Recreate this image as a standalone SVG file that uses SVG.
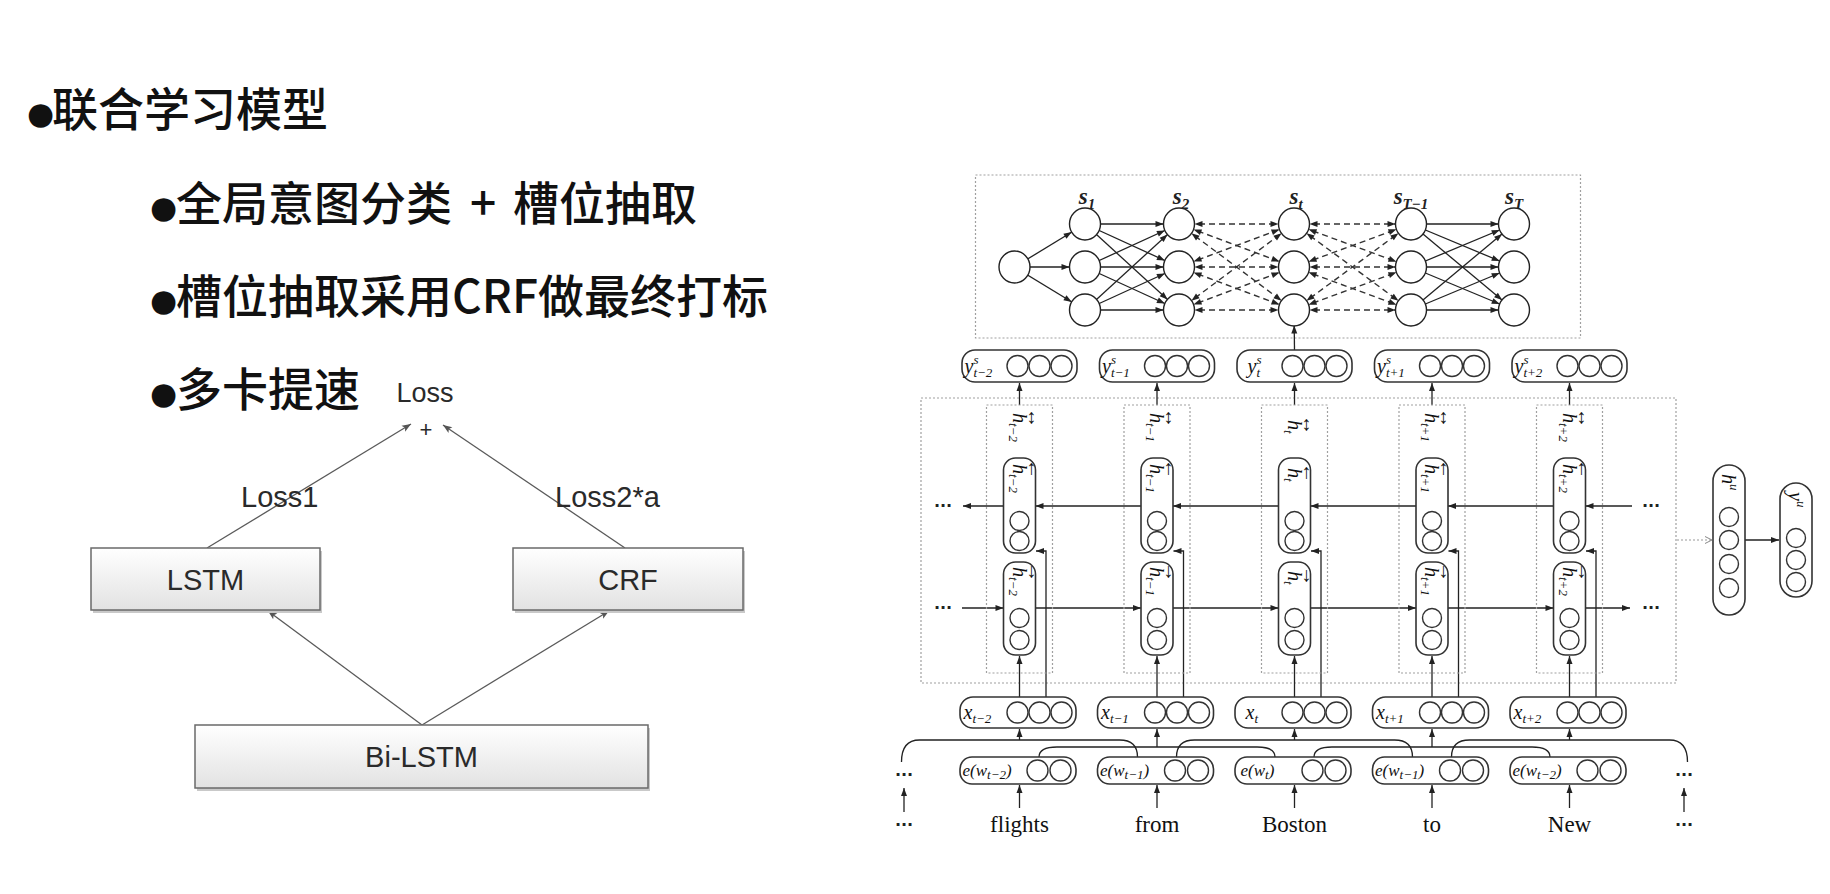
<svg xmlns="http://www.w3.org/2000/svg" width="1830" height="894" viewBox="0 0 1830 894">
<defs>
<style>
.cjk{font-family:"Noto Sans CJK SC","Noto Sans CJK JP",sans-serif;font-size:46px;font-weight:500;fill:#111}
.bul{font-family:"DejaVu Sans",sans-serif;font-size:31px}
.lt{font-family:"Liberation Sans",Arial,sans-serif;fill:#2a2a2a}
.m{font-family:"Liberation Serif","Times New Roman",serif;font-style:italic;font-size:20px;fill:#111}
.s{font-size:13px}
.e{font-size:17px}
.w{font-family:"Liberation Serif","Times New Roman",serif;font-size:23px;fill:#111;text-anchor:middle}
.dots{font-family:"DejaVu Sans",sans-serif;font-size:16px;font-weight:bold;fill:#222;text-anchor:middle}
.sl{font-family:"Liberation Serif",serif;font-style:italic;font-weight:bold;font-size:23px;fill:#222;text-anchor:middle}
.node{fill:#fff;stroke:#222;stroke-width:1.4}
.rb{fill:#fff;stroke:#333;stroke-width:1.6}
.cir{fill:#fff;stroke:#333;stroke-width:1.4}
.dot{fill:none;stroke:#a0a0a0;stroke-width:1.2;stroke-dasharray:2 2}
.ln{stroke:#222;stroke-width:1.3;fill:none}
.dl{stroke:#333;stroke-width:1.4;fill:none;stroke-dasharray:6 4}
.gl{stroke:#5a5a5a;stroke-width:1.3;fill:none}
.lbox{fill:url(#boxg);stroke:#6a6a6a;stroke-width:1.5}
.shd{fill:#c9c9c9}
</style>
<linearGradient id="boxg" x1="0" y1="0" x2="0" y2="1">
<stop offset="0" stop-color="#ffffff"/>
<stop offset="1" stop-color="#e2e2e2"/>
</linearGradient>
<marker id="arr" markerUnits="userSpaceOnUse" markerWidth="10" markerHeight="8" refX="8" refY="3" orient="auto" overflow="visible"><path d="M0,0 L8,3 L0,6 z" fill="#222"/></marker>
<marker id="arrN" markerUnits="userSpaceOnUse" markerWidth="10" markerHeight="8" refX="23.5" refY="3" orient="auto-start-reverse" overflow="visible"><path d="M0,0 L8,3 L0,6 z" fill="#222"/></marker>
<marker id="arrG" markerUnits="userSpaceOnUse" markerWidth="10" markerHeight="8" refX="9" refY="3.5" orient="auto" overflow="visible"><path d="M0,0 L9,3.5 L0,7 L2,3.5 z" fill="#555"/></marker>
<marker id="arrO" markerUnits="userSpaceOnUse" markerWidth="10" markerHeight="8" refX="7" refY="3.5" orient="auto" overflow="visible"><path d="M0,0 L7,3.5 L0,7" fill="none" stroke="#888" stroke-width="1"/></marker>
</defs>
<rect width="1830" height="894" fill="#fff"/>

<!-- headings -->
<g id="headings">
<text id="h1" class="cjk" x="27" y="126"><tspan class="bul" dy="-2">●</tspan><tspan x="52" dy="2">联合学习模型</tspan></text>
<text id="h2" class="cjk" x="150" y="220"><tspan class="bul" dy="-2">●</tspan><tspan x="176" dy="2">全局意图分类 </tspan><tspan x="470">+ </tspan><tspan x="513">槽位抽取</tspan></text>
<text id="h3" class="cjk" x="150" y="313"><tspan class="bul" dy="-2">●</tspan><tspan x="176" dy="2">槽位抽取采用CRF做最终打标</tspan></text>
<text id="h4" class="cjk" x="150" y="406"><tspan class="bul" dy="-2">●</tspan><tspan x="176" dy="2">多卡提速</tspan></text>
</g>

<!-- left joint model diagram -->
<g id="left-connectors">
<line class="gl" x1="207" y1="548" x2="411" y2="424" marker-end="url(#arrG)"/>
<line class="gl" x1="625" y1="548" x2="443" y2="425" marker-end="url(#arrG)"/>
<line class="gl" x1="422" y1="725" x2="268" y2="611" marker-end="url(#arrG)"/>
<line class="gl" x1="422" y1="725" x2="609" y2="611" marker-end="url(#arrG)"/>
<text class="lt" x="241" y="507" font-size="29">Loss1</text>
<text class="lt" x="555" y="507" font-size="29">Loss2*a</text>
</g>
<g id="loss">
<text class="lt" x="425" y="402" font-size="27" text-anchor="middle">Loss</text>
<text class="lt" x="426" y="437" font-size="22" text-anchor="middle">+</text>
</g>
<g id="lstm">
<rect class="shd" x="93" y="551" width="229" height="62"/>
<rect class="lbox" x="91" y="548" width="229" height="62"/>
<text class="lt" x="205.5" y="590" font-size="29" text-anchor="middle">LSTM</text>
</g>
<g id="crf">
<rect class="shd" x="515" y="551" width="230" height="62"/>
<rect class="lbox" x="513" y="548" width="230" height="62"/>
<text class="lt" x="628" y="590" font-size="29" text-anchor="middle">CRF</text>
</g>
<g id="bilstm">
<rect class="shd" x="197" y="728" width="453" height="63"/>
<rect class="lbox" x="195" y="725" width="453" height="63"/>
<text class="lt" x="421.5" y="767" font-size="29" text-anchor="middle">Bi-LSTM</text>
</g>

<!-- right network diagram -->
<g id="frames">
<rect class="dot" x="975.5" y="175" width="605" height="163"/>
<rect class="dot" x="921" y="398" width="755" height="285"/>
</g>

<g id="connectors">
<g id="crf-edges">
<line class="ln" x1="1014.5" y1="267" x2="1085" y2="224" marker-end="url(#arrN)"/>
<line class="ln" x1="1014.5" y1="267" x2="1085" y2="267" marker-end="url(#arrN)"/>
<line class="ln" x1="1014.5" y1="267" x2="1085" y2="310" marker-end="url(#arrN)"/>
<line class="ln" x1="1085" y1="224" x2="1179" y2="224" marker-end="url(#arrN)"/>
<line class="ln" x1="1085" y1="224" x2="1179" y2="267" marker-end="url(#arrN)"/>
<line class="ln" x1="1085" y1="224" x2="1179" y2="310" marker-end="url(#arrN)"/>
<line class="ln" x1="1085" y1="267" x2="1179" y2="224" marker-end="url(#arrN)"/>
<line class="ln" x1="1085" y1="267" x2="1179" y2="267" marker-end="url(#arrN)"/>
<line class="ln" x1="1085" y1="267" x2="1179" y2="310" marker-end="url(#arrN)"/>
<line class="ln" x1="1085" y1="310" x2="1179" y2="224" marker-end="url(#arrN)"/>
<line class="ln" x1="1085" y1="310" x2="1179" y2="267" marker-end="url(#arrN)"/>
<line class="ln" x1="1085" y1="310" x2="1179" y2="310" marker-end="url(#arrN)"/>
<line class="dl" x1="1179" y1="224" x2="1294" y2="224" marker-start="url(#arrN)" marker-end="url(#arrN)"/>
<line class="dl" x1="1179" y1="224" x2="1294" y2="267" marker-start="url(#arrN)" marker-end="url(#arrN)"/>
<line class="dl" x1="1179" y1="224" x2="1294" y2="310" marker-start="url(#arrN)" marker-end="url(#arrN)"/>
<line class="dl" x1="1179" y1="267" x2="1294" y2="224" marker-start="url(#arrN)" marker-end="url(#arrN)"/>
<line class="dl" x1="1179" y1="267" x2="1294" y2="267" marker-start="url(#arrN)" marker-end="url(#arrN)"/>
<line class="dl" x1="1179" y1="267" x2="1294" y2="310" marker-start="url(#arrN)" marker-end="url(#arrN)"/>
<line class="dl" x1="1179" y1="310" x2="1294" y2="224" marker-start="url(#arrN)" marker-end="url(#arrN)"/>
<line class="dl" x1="1179" y1="310" x2="1294" y2="267" marker-start="url(#arrN)" marker-end="url(#arrN)"/>
<line class="dl" x1="1179" y1="310" x2="1294" y2="310" marker-start="url(#arrN)" marker-end="url(#arrN)"/>
<line class="dl" x1="1294" y1="224" x2="1411" y2="224" marker-start="url(#arrN)" marker-end="url(#arrN)"/>
<line class="dl" x1="1294" y1="224" x2="1411" y2="267" marker-start="url(#arrN)" marker-end="url(#arrN)"/>
<line class="dl" x1="1294" y1="224" x2="1411" y2="310" marker-start="url(#arrN)" marker-end="url(#arrN)"/>
<line class="dl" x1="1294" y1="267" x2="1411" y2="224" marker-start="url(#arrN)" marker-end="url(#arrN)"/>
<line class="dl" x1="1294" y1="267" x2="1411" y2="267" marker-start="url(#arrN)" marker-end="url(#arrN)"/>
<line class="dl" x1="1294" y1="267" x2="1411" y2="310" marker-start="url(#arrN)" marker-end="url(#arrN)"/>
<line class="dl" x1="1294" y1="310" x2="1411" y2="224" marker-start="url(#arrN)" marker-end="url(#arrN)"/>
<line class="dl" x1="1294" y1="310" x2="1411" y2="267" marker-start="url(#arrN)" marker-end="url(#arrN)"/>
<line class="dl" x1="1294" y1="310" x2="1411" y2="310" marker-start="url(#arrN)" marker-end="url(#arrN)"/>
<line class="ln" x1="1411" y1="224" x2="1514" y2="224" marker-end="url(#arrN)"/>
<line class="ln" x1="1411" y1="224" x2="1514" y2="267" marker-end="url(#arrN)"/>
<line class="ln" x1="1411" y1="224" x2="1514" y2="310" marker-end="url(#arrN)"/>
<line class="ln" x1="1411" y1="267" x2="1514" y2="224" marker-end="url(#arrN)"/>
<line class="ln" x1="1411" y1="267" x2="1514" y2="267" marker-end="url(#arrN)"/>
<line class="ln" x1="1411" y1="267" x2="1514" y2="310" marker-end="url(#arrN)"/>
<line class="ln" x1="1411" y1="310" x2="1514" y2="224" marker-end="url(#arrN)"/>
<line class="ln" x1="1411" y1="310" x2="1514" y2="267" marker-end="url(#arrN)"/>
<line class="ln" x1="1411" y1="310" x2="1514" y2="310" marker-end="url(#arrN)"/>
<line class="ln" x1="1294.5" y1="350" x2="1294" y2="310" marker-end="url(#arrN)"/>
</g>
<g id="rows">
<line class="ln" x1="1003.5" y1="506" x2="963" y2="506" marker-end="url(#arr)"/>
<line class="ln" x1="1141" y1="506" x2="1035.5" y2="506" marker-end="url(#arr)"/>
<line class="ln" x1="1278.5" y1="506" x2="1173" y2="506" marker-end="url(#arr)"/>
<line class="ln" x1="1416" y1="506" x2="1310.5" y2="506" marker-end="url(#arr)"/>
<line class="ln" x1="1553.5" y1="506" x2="1448" y2="506" marker-end="url(#arr)"/>
<line class="ln" x1="1632" y1="506" x2="1585.5" y2="506" marker-end="url(#arr)"/>
<line class="ln" x1="962" y1="608" x2="1003.5" y2="608" marker-end="url(#arr)"/>
<line class="ln" x1="1035.5" y1="608" x2="1141" y2="608" marker-end="url(#arr)"/>
<line class="ln" x1="1173" y1="608" x2="1278.5" y2="608" marker-end="url(#arr)"/>
<line class="ln" x1="1310.5" y1="608" x2="1416" y2="608" marker-end="url(#arr)"/>
<line class="ln" x1="1448" y1="608" x2="1553.5" y2="608" marker-end="url(#arr)"/>
<line class="ln" x1="1585.5" y1="608" x2="1630" y2="608" marker-end="url(#arr)"/>
<line class="ln" x1="904" y1="812" x2="904" y2="788" marker-end="url(#arr)"/>
<line class="ln" x1="1684" y1="812" x2="1684" y2="788" marker-end="url(#arr)"/>
<line x1="1677" y1="540" x2="1712" y2="540" stroke="#999" stroke-width="1.2" stroke-dasharray="2 2" marker-end="url(#arrO)"/>
<line class="ln" x1="1745" y1="540" x2="1779" y2="540" marker-end="url(#arr)"/>
</g>
<g id="col-links-0" transform="translate(1019.5 0)">
<line class="ln" x1="0" y1="405" x2="0" y2="383" marker-end="url(#arr)"/>
<line class="ln" x1="0" y1="697" x2="0" y2="656" marker-end="url(#arr)"/>
<path class="ln" d="M26.5,697 V551 H16.5" marker-end="url(#arr)"/>
<line class="ln" x1="0" y1="808" x2="0" y2="785" marker-end="url(#arr)"/>
<line class="ln" x1="0" y1="740" x2="0" y2="729" marker-end="url(#arr)"/>
<path class="ln" d="M-118,762 Q-118,740 -100,740 H100 Q118,740 118,757"/>
</g>
<g id="col-links-1" transform="translate(1157 0)">
<line class="ln" x1="0" y1="405" x2="0" y2="383" marker-end="url(#arr)"/>
<line class="ln" x1="0" y1="697" x2="0" y2="656" marker-end="url(#arr)"/>
<path class="ln" d="M26.5,697 V551 H16.5" marker-end="url(#arr)"/>
<line class="ln" x1="0" y1="808" x2="0" y2="785" marker-end="url(#arr)"/>
<line class="ln" x1="0" y1="747" x2="0" y2="729" marker-end="url(#arr)"/>
<path class="ln" d="M-118,757 Q-118,747 -100,747 H100 Q118,747 118,757"/>
</g>
<g id="col-links-2" transform="translate(1294.5 0)">
<line class="ln" x1="0" y1="405" x2="0" y2="383" marker-end="url(#arr)"/>
<line class="ln" x1="0" y1="697" x2="0" y2="656" marker-end="url(#arr)"/>
<path class="ln" d="M26.5,697 V551 H16.5" marker-end="url(#arr)"/>
<line class="ln" x1="0" y1="808" x2="0" y2="785" marker-end="url(#arr)"/>
<line class="ln" x1="0" y1="740" x2="0" y2="729" marker-end="url(#arr)"/>
<path class="ln" d="M-118,757 Q-118,740 -100,740 H100 Q118,740 118,757"/>
</g>
<g id="col-links-3" transform="translate(1432 0)">
<line class="ln" x1="0" y1="405" x2="0" y2="383" marker-end="url(#arr)"/>
<line class="ln" x1="0" y1="697" x2="0" y2="656" marker-end="url(#arr)"/>
<path class="ln" d="M26.5,697 V551 H16.5" marker-end="url(#arr)"/>
<line class="ln" x1="0" y1="808" x2="0" y2="785" marker-end="url(#arr)"/>
<line class="ln" x1="0" y1="747" x2="0" y2="729" marker-end="url(#arr)"/>
<path class="ln" d="M-118,757 Q-118,747 -100,747 H100 Q118,747 118,757"/>
</g>
<g id="col-links-4" transform="translate(1569.5 0)">
<line class="ln" x1="0" y1="405" x2="0" y2="383" marker-end="url(#arr)"/>
<line class="ln" x1="0" y1="697" x2="0" y2="656" marker-end="url(#arr)"/>
<path class="ln" d="M26.5,697 V551 H16.5" marker-end="url(#arr)"/>
<line class="ln" x1="0" y1="808" x2="0" y2="785" marker-end="url(#arr)"/>
<line class="ln" x1="0" y1="740" x2="0" y2="729" marker-end="url(#arr)"/>
<path class="ln" d="M-118,757 Q-118,740 -100,740 H100 Q118,740 118,762"/>
</g>
</g>

<g id="crf-nodes">
<ellipse class="node" cx="1014.5" cy="267" rx="15.5" ry="16"/>
<g id="s1"><text class="sl" x="1087" y="204">s<tspan font-size="15" dy="5">1</tspan></text>
<ellipse class="node" cx="1085" cy="224" rx="15.5" ry="16"/><ellipse class="node" cx="1085" cy="267" rx="15.5" ry="16"/><ellipse class="node" cx="1085" cy="310" rx="15.5" ry="16"/></g>
<g id="s2"><text class="sl" x="1181" y="204">s<tspan font-size="15" dy="5">2</tspan></text>
<ellipse class="node" cx="1179" cy="224" rx="15.5" ry="16"/><ellipse class="node" cx="1179" cy="267" rx="15.5" ry="16"/><ellipse class="node" cx="1179" cy="310" rx="15.5" ry="16"/></g>
<g id="st"><text class="sl" x="1296" y="204">s<tspan font-size="15" dy="5">t</tspan></text>
<ellipse class="node" cx="1294" cy="224" rx="15.5" ry="16"/><ellipse class="node" cx="1294" cy="267" rx="15.5" ry="16"/><ellipse class="node" cx="1294" cy="310" rx="15.5" ry="16"/></g>
<g id="sT-1"><text class="sl" x="1411" y="204">s<tspan font-size="15" dy="5">T−1</tspan></text>
<ellipse class="node" cx="1411" cy="224" rx="15.5" ry="16"/><ellipse class="node" cx="1411" cy="267" rx="15.5" ry="16"/><ellipse class="node" cx="1411" cy="310" rx="15.5" ry="16"/></g>
<g id="sT"><text class="sl" x="1514" y="204">s<tspan font-size="15" dy="5">T</tspan></text>
<ellipse class="node" cx="1514" cy="224" rx="15.5" ry="16"/><ellipse class="node" cx="1514" cy="267" rx="15.5" ry="16"/><ellipse class="node" cx="1514" cy="310" rx="15.5" ry="16"/></g>
</g>

<g id="col-0" transform="translate(1019.5 0)">
<rect class="rb" x="-57.5" y="350" width="115" height="32" rx="13"/>
<text class="m" x="-55" y="373">y<tspan class="s" dy="-9">s</tspan><tspan class="s" dx="-5" dy="13">t−2</tspan></text>
<circle class="cir" cx="-2" cy="366" r="10.5"/><circle class="cir" cx="20" cy="366" r="10.5"/><circle class="cir" cx="42" cy="366" r="10.5"/>
<rect class="dot" x="-33" y="405" width="66" height="268"/>
<g transform="translate(0 413) rotate(90)"><text class="m" x="0" y="7">h<tspan class="s" dy="4">t−2</tspan></text><text class="m" x="5" y="-8" font-size="11" text-anchor="middle">↔</text></g>
<rect class="rb" x="-16" y="458" width="32" height="95" rx="12"/>
<g transform="translate(0 464) rotate(90)"><text class="m" x="0" y="7">h<tspan class="s" dy="4">t−2</tspan></text><text class="m" x="5" y="-8" font-size="11" text-anchor="middle">←</text></g>
<circle class="cir" cx="0" cy="521" r="9.5"/><circle class="cir" cx="0" cy="541" r="9.5"/>
<rect class="rb" x="-16" y="562" width="32" height="93" rx="12"/>
<g transform="translate(0 567) rotate(90)"><text class="m" x="0" y="7">h<tspan class="s" dy="4">t−2</tspan></text><text class="m" x="5" y="-8" font-size="11" text-anchor="middle">→</text></g>
<circle class="cir" cx="0" cy="618" r="9.5"/><circle class="cir" cx="0" cy="640" r="9.5"/>
<rect class="rb" x="-59.5" y="697" width="116" height="31" rx="13"/>
<text class="m" x="-56" y="719">x<tspan class="s" dy="4">t−2</tspan></text>
<circle class="cir" cx="-2" cy="712.5" r="10.5"/><circle class="cir" cx="20" cy="712.5" r="10.5"/><circle class="cir" cx="42" cy="712.5" r="10.5"/>
<rect class="rb" x="-59.5" y="757" width="116" height="27" rx="12"/>
<text class="m e" x="-57" y="776">e(w<tspan class="s" dy="3" font-size="11">t−2</tspan><tspan dy="-3">)</tspan></text>
<circle class="cir" cx="18" cy="770.5" r="10.5"/><circle class="cir" cx="41" cy="770.5" r="10.5"/>
<text class="w" x="0" y="832">flights</text>
</g>
<g id="col-1" transform="translate(1157 0)">
<rect class="rb" x="-57.5" y="350" width="115" height="32" rx="13"/>
<text class="m" x="-55" y="373">y<tspan class="s" dy="-9">s</tspan><tspan class="s" dx="-5" dy="13">t−1</tspan></text>
<circle class="cir" cx="-2" cy="366" r="10.5"/><circle class="cir" cx="20" cy="366" r="10.5"/><circle class="cir" cx="42" cy="366" r="10.5"/>
<rect class="dot" x="-33" y="405" width="66" height="268"/>
<g transform="translate(0 413) rotate(90)"><text class="m" x="0" y="7">h<tspan class="s" dy="4">t−1</tspan></text><text class="m" x="5" y="-8" font-size="11" text-anchor="middle">↔</text></g>
<rect class="rb" x="-16" y="458" width="32" height="95" rx="12"/>
<g transform="translate(0 464) rotate(90)"><text class="m" x="0" y="7">h<tspan class="s" dy="4">t−1</tspan></text><text class="m" x="5" y="-8" font-size="11" text-anchor="middle">←</text></g>
<circle class="cir" cx="0" cy="521" r="9.5"/><circle class="cir" cx="0" cy="541" r="9.5"/>
<rect class="rb" x="-16" y="562" width="32" height="93" rx="12"/>
<g transform="translate(0 567) rotate(90)"><text class="m" x="0" y="7">h<tspan class="s" dy="4">t−1</tspan></text><text class="m" x="5" y="-8" font-size="11" text-anchor="middle">→</text></g>
<circle class="cir" cx="0" cy="618" r="9.5"/><circle class="cir" cx="0" cy="640" r="9.5"/>
<rect class="rb" x="-59.5" y="697" width="116" height="31" rx="13"/>
<text class="m" x="-56" y="719">x<tspan class="s" dy="4">t−1</tspan></text>
<circle class="cir" cx="-2" cy="712.5" r="10.5"/><circle class="cir" cx="20" cy="712.5" r="10.5"/><circle class="cir" cx="42" cy="712.5" r="10.5"/>
<rect class="rb" x="-59.5" y="757" width="116" height="27" rx="12"/>
<text class="m e" x="-57" y="776">e(w<tspan class="s" dy="3" font-size="11">t−1</tspan><tspan dy="-3">)</tspan></text>
<circle class="cir" cx="18" cy="770.5" r="10.5"/><circle class="cir" cx="41" cy="770.5" r="10.5"/>
<text class="w" x="0" y="832">from</text>
</g>
<g id="col-2" transform="translate(1294.5 0)">
<rect class="rb" x="-57.5" y="350" width="115" height="32" rx="13"/>
<text class="m" x="-47" y="373">y<tspan class="s" dy="-9">s</tspan><tspan class="s" dx="-5" dy="13">t</tspan></text>
<circle class="cir" cx="-2" cy="366" r="10.5"/><circle class="cir" cx="20" cy="366" r="10.5"/><circle class="cir" cx="42" cy="366" r="10.5"/>
<rect class="dot" x="-33" y="405" width="66" height="268"/>
<g transform="translate(0 420) rotate(90)"><text class="m" x="0" y="7">h<tspan class="s" dy="4">t</tspan></text><text class="m" x="5" y="-8" font-size="11" text-anchor="middle">↔</text></g>
<rect class="rb" x="-16" y="458" width="32" height="95" rx="12"/>
<g transform="translate(0 468) rotate(90)"><text class="m" x="0" y="7">h<tspan class="s" dy="4">t</tspan></text><text class="m" x="5" y="-8" font-size="11" text-anchor="middle">←</text></g>
<circle class="cir" cx="0" cy="521" r="9.5"/><circle class="cir" cx="0" cy="541" r="9.5"/>
<rect class="rb" x="-16" y="562" width="32" height="93" rx="12"/>
<g transform="translate(0 571) rotate(90)"><text class="m" x="0" y="7">h<tspan class="s" dy="4">t</tspan></text><text class="m" x="5" y="-8" font-size="11" text-anchor="middle">→</text></g>
<circle class="cir" cx="0" cy="618" r="9.5"/><circle class="cir" cx="0" cy="640" r="9.5"/>
<rect class="rb" x="-59.5" y="697" width="116" height="31" rx="13"/>
<text class="m" x="-49" y="719">x<tspan class="s" dy="4">t</tspan></text>
<circle class="cir" cx="-2" cy="712.5" r="10.5"/><circle class="cir" cx="20" cy="712.5" r="10.5"/><circle class="cir" cx="42" cy="712.5" r="10.5"/>
<rect class="rb" x="-59.5" y="757" width="116" height="27" rx="12"/>
<text class="m e" x="-54" y="776">e(w<tspan class="s" dy="3" font-size="11">t</tspan><tspan dy="-3">)</tspan></text>
<circle class="cir" cx="18" cy="770.5" r="10.5"/><circle class="cir" cx="41" cy="770.5" r="10.5"/>
<text class="w" x="0" y="832">Boston</text>
</g>
<g id="col-3" transform="translate(1432 0)">
<rect class="rb" x="-57.5" y="350" width="115" height="32" rx="13"/>
<text class="m" x="-55" y="373">y<tspan class="s" dy="-9">s</tspan><tspan class="s" dx="-5" dy="13">t+1</tspan></text>
<circle class="cir" cx="-2" cy="366" r="10.5"/><circle class="cir" cx="20" cy="366" r="10.5"/><circle class="cir" cx="42" cy="366" r="10.5"/>
<rect class="dot" x="-33" y="405" width="66" height="268"/>
<g transform="translate(0 413) rotate(90)"><text class="m" x="0" y="7">h<tspan class="s" dy="4">t+1</tspan></text><text class="m" x="5" y="-8" font-size="11" text-anchor="middle">↔</text></g>
<rect class="rb" x="-16" y="458" width="32" height="95" rx="12"/>
<g transform="translate(0 464) rotate(90)"><text class="m" x="0" y="7">h<tspan class="s" dy="4">t+1</tspan></text><text class="m" x="5" y="-8" font-size="11" text-anchor="middle">←</text></g>
<circle class="cir" cx="0" cy="521" r="9.5"/><circle class="cir" cx="0" cy="541" r="9.5"/>
<rect class="rb" x="-16" y="562" width="32" height="93" rx="12"/>
<g transform="translate(0 567) rotate(90)"><text class="m" x="0" y="7">h<tspan class="s" dy="4">t+1</tspan></text><text class="m" x="5" y="-8" font-size="11" text-anchor="middle">→</text></g>
<circle class="cir" cx="0" cy="618" r="9.5"/><circle class="cir" cx="0" cy="640" r="9.5"/>
<rect class="rb" x="-59.5" y="697" width="116" height="31" rx="13"/>
<text class="m" x="-56" y="719">x<tspan class="s" dy="4">t+1</tspan></text>
<circle class="cir" cx="-2" cy="712.5" r="10.5"/><circle class="cir" cx="20" cy="712.5" r="10.5"/><circle class="cir" cx="42" cy="712.5" r="10.5"/>
<rect class="rb" x="-59.5" y="757" width="116" height="27" rx="12"/>
<text class="m e" x="-57" y="776">e(w<tspan class="s" dy="3" font-size="11">t−1</tspan><tspan dy="-3">)</tspan></text>
<circle class="cir" cx="18" cy="770.5" r="10.5"/><circle class="cir" cx="41" cy="770.5" r="10.5"/>
<text class="w" x="0" y="832">to</text>
</g>
<g id="col-4" transform="translate(1569.5 0)">
<rect class="rb" x="-57.5" y="350" width="115" height="32" rx="13"/>
<text class="m" x="-55" y="373">y<tspan class="s" dy="-9">s</tspan><tspan class="s" dx="-5" dy="13">t+2</tspan></text>
<circle class="cir" cx="-2" cy="366" r="10.5"/><circle class="cir" cx="20" cy="366" r="10.5"/><circle class="cir" cx="42" cy="366" r="10.5"/>
<rect class="dot" x="-33" y="405" width="66" height="268"/>
<g transform="translate(0 413) rotate(90)"><text class="m" x="0" y="7">h<tspan class="s" dy="4">t+2</tspan></text><text class="m" x="5" y="-8" font-size="11" text-anchor="middle">↔</text></g>
<rect class="rb" x="-16" y="458" width="32" height="95" rx="12"/>
<g transform="translate(0 464) rotate(90)"><text class="m" x="0" y="7">h<tspan class="s" dy="4">t+2</tspan></text><text class="m" x="5" y="-8" font-size="11" text-anchor="middle">←</text></g>
<circle class="cir" cx="0" cy="521" r="9.5"/><circle class="cir" cx="0" cy="541" r="9.5"/>
<rect class="rb" x="-16" y="562" width="32" height="93" rx="12"/>
<g transform="translate(0 567) rotate(90)"><text class="m" x="0" y="7">h<tspan class="s" dy="4">t+2</tspan></text><text class="m" x="5" y="-8" font-size="11" text-anchor="middle">→</text></g>
<circle class="cir" cx="0" cy="618" r="9.5"/><circle class="cir" cx="0" cy="640" r="9.5"/>
<rect class="rb" x="-59.5" y="697" width="116" height="31" rx="13"/>
<text class="m" x="-56" y="719">x<tspan class="s" dy="4">t+2</tspan></text>
<circle class="cir" cx="-2" cy="712.5" r="10.5"/><circle class="cir" cx="20" cy="712.5" r="10.5"/><circle class="cir" cx="42" cy="712.5" r="10.5"/>
<rect class="rb" x="-59.5" y="757" width="116" height="27" rx="12"/>
<text class="m e" x="-57" y="776">e(w<tspan class="s" dy="3" font-size="11">t−2</tspan><tspan dy="-3">)</tspan></text>
<circle class="cir" cx="18" cy="770.5" r="10.5"/><circle class="cir" cx="41" cy="770.5" r="10.5"/>
<text class="w" x="0" y="832">New</text>
</g>

<g id="ellipses">
<text class="dots" x="943" y="511">···</text>
<text class="dots" x="943" y="613">···</text>
<text class="dots" x="1651" y="511">···</text>
<text class="dots" x="1651" y="613">···</text>
<text class="dots" x="904" y="780">···</text>
<text class="dots" x="904" y="830">···</text>
<text class="dots" x="1684" y="780">···</text>
<text class="dots" x="1684" y="830">···</text>
</g>

<g id="hu">
<rect class="rb" x="1713" y="465" width="32" height="150" rx="16"/>
<g transform="translate(1729 474) rotate(90)"><text class="m" x="0" y="7">h<tspan class="s" dy="-8">u</tspan></text></g>
<circle class="cir" cx="1729" cy="517" r="9.5"/><circle class="cir" cx="1729" cy="540" r="9.5"/><circle class="cir" cx="1729" cy="564" r="9.5"/><circle class="cir" cx="1729" cy="588" r="9.5"/>
</g>
<g id="yu">
<rect class="rb" x="1780" y="483" width="32" height="114" rx="16"/>
<g transform="translate(1796 492) rotate(90)"><text class="m" x="0" y="7">y<tspan class="s" dy="-8">u</tspan></text></g>
<circle class="cir" cx="1796" cy="538" r="9.5"/><circle class="cir" cx="1796" cy="560" r="9.5"/><circle class="cir" cx="1796" cy="582" r="9.5"/>
</g>
</svg>
